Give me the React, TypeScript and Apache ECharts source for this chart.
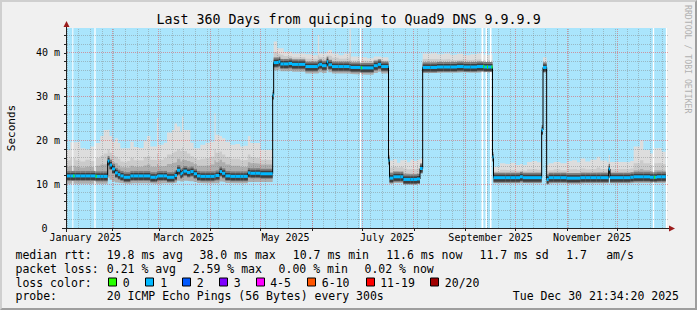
import React, { useEffect, useRef } from "react";
import * as echarts from "echarts";

// ---------- texts ----------
const TITLE = "Last 360 Days from quicping to Quad9 DNS 9.9.9.9";
const Y_NAME = "Seconds";
const WATERMARK = "RRDTOOL / TOBI OETIKER";

// ---------- time frame ----------
const START_MS = Date.UTC(2025, 0, 4, 21, 34, 20);
const DAY_MS = 86400000;
const RANGE_DAYS = 360;
const DATA_END_DAY = 359.3;
const Y_MAX = 45.714;

const monthStarts = [
  "2025-02-01", "2025-03-01", "2025-04-01", "2025-05-01", "2025-06-01", "2025-07-01",
  "2025-08-01", "2025-09-01", "2025-10-01", "2025-11-01", "2025-12-01",
];
const monthLabelDates = ["2025-01-16", "2025-03-16", "2025-05-16", "2025-07-16", "2025-09-16", "2025-11-16"];
const monthLabels = ["January 2025", "March 2025", "May 2025", "July 2025", "September 2025", "November 2025"];
const firstGridSunday = "2025-01-05";
const yMajor = [10, 20, 30, 40];
const yMinor = [2, 4, 6, 8, 12, 14, 16, 18, 22, 24, 26, 28, 32, 34, 36, 38, 42, 44];

// ---------- data (days since start, values in ms) ----------
const days = [
  0, 2, 5, 8, 11, 14, 17, 20, 22, 24.4, 25.5, 27, 28.8, 30.5, 32, 34, 36, 38, 40, 43, 46, 48, 50, 53, 54, 54.7,
  58, 60, 63, 64.5, 66, 68, 69, 69.8, 72, 74, 76, 78, 80, 83, 86, 88.5, 89.2, 91.5, 93, 95, 98, 101, 104, 106,
  108.5, 110, 113, 116, 120, 123.4,
  124, 126, 127, 128, 130, 133, 135, 139, 143, 147, 150.5, 151.3, 153, 155.8, 156.8, 159, 163, 166, 169.5, 170.3,
  176, 180, 184, 186.5, 188.5, 192.9,
  193.5, 195.8, 198, 200, 201.8, 204, 206, 208, 210, 211.8,
  213.4, 218, 222, 226, 230, 234, 238, 242, 246, 250, 255.3,
  255.9, 259.8, 263, 266, 269, 271.8, 273.5, 276, 279, 282, 284.8, 285.6, 287.8, 289, 292, 296, 299.8, 303, 306, 308,
  311, 314, 317.8, 320, 324, 325, 325.8, 330, 334, 338, 340, 343.8, 345.8, 349.8, 352, 354, 356.8,
];

const median = [
  11.9, 11.9, 11.9, 11.9, 11.9, 11.9, 11.8, 11.8, 11.8, 15.3, 14.4, 13.5, 12.6, 12.2, 11.9, 11.6, 11.6, 11.9, 11.9, 11.9,
  11.9, 11.9, 11.6, 11.6, 11.8, 11.9, 11.9, 11.6, 11.6, 12.0, 13.2, 12.4, 12.6, 13.0, 12.7, 12.9, 12.4, 11.9, 11.8, 11.8,
  11.8, 11.9, 12.0, 12.9, 12.5, 11.9, 11.8, 11.8, 11.8, 11.8, 12.6, 12.5, 12.5, 12.4, 12.4, 30.4,
  37.8, 37.8, 38.0, 37.5, 37.5, 37.6, 37.4, 37.4, 36.9, 36.9, 37.2, 37.4, 37.1, 38.0, 37.3, 36.9, 36.9, 36.9, 36.8, 36.7,
  36.6, 36.6, 37.1, 37.4, 36.9, 15.5,
  11.4, 11.7, 11.7, 11.7, 11.1, 11.1, 11.1, 11.1, 11.2, 13.6,
  36.7, 36.7, 36.8, 36.8, 36.8, 36.9, 36.8, 36.8, 36.9, 36.8, 16.2,
  11.5, 11.5, 11.5, 11.5, 11.5, 11.7, 11.5, 11.5, 11.5, 11.5, 22.4, 36.7, 11.1, 11.5, 11.5, 11.5, 11.4, 11.4, 11.4, 11.5,
  11.5, 11.5, 11.5, 11.5, 11.5, 13.5, 11.5, 11.5, 11.5, 11.6, 11.7, 11.7, 11.7, 11.6, 11.6, 11.7, 11.7,
];

const smokeMax = [
  17.8, 19.6, 19.7, 18.2, 18.0, 18.6, 19.4, 21.0, 22.4, 22.5, 21.0, 19.7, 20.5, 19.4, 18.2, 18.2, 18.2, 19.7, 18.5, 18.3,
  19.8, 21.0, 18.6, 18.6, 25.1, 19.0, 19.5, 21.8, 22.4, 23.9, 23.2, 22.0, 25.5, 22.4, 22.4, 19.5, 18.2, 18.2, 19.0, 19.5,
  19.7, 26.2, 21.3, 21.0, 20.5, 19.7, 19.0, 19.2, 18.6, 18.8, 21.0, 19.4, 19.4, 17.8, 17.8, 30.4,
  42.6, 41.1, 41.1, 41.1, 40.3, 40.3, 39.9, 39.9, 39.7, 39.5, 44.1, 39.9, 39.9, 40.3, 40.7, 39.9, 39.5, 39.9, 45.6, 39.2,
  39.0, 38.8, 39.2, 39.2, 39.0, 19.4,
  15.4, 15.7, 14.9, 15.5, 15.6, 15.0, 15.6, 15.3, 15.6, 15.8,
  39.9, 40.0, 39.7, 39.9, 39.6, 39.8, 39.5, 39.7, 39.9, 39.6, 17.0,
  14.0, 14.8, 14.6, 14.9, 14.4, 14.6, 14.4, 15.1, 15.3, 15.0, 22.4, 39.0, 14.4, 14.8, 15.1, 14.8, 15.3, 15.5, 15.0, 15.9,
  15.2, 15.6, 16.3, 15.4, 15.0, 16.7, 15.1, 15.1, 15.0, 15.3, 18.6, 20.0, 17.8, 17.0, 18.2, 18.3, 17.4,
];

const smokeHigh = [
  15.5, 16.0, 15.5, 15.2, 15.6, 15.3, 16.0, 16.5, 17.0, 18.0, 17.2, 16.5, 16.3, 15.8, 15.2, 15.0, 15.3, 16.0, 15.5, 15.4,
  16.2, 16.4, 15.6, 15.5, 17.0, 15.6, 16.0, 16.8, 17.2, 17.5, 18.0, 17.6, 18.4, 17.6, 17.0, 16.4, 16.0, 15.6, 15.8, 16.0,
  16.3, 18.0, 17.2, 17.5, 16.8, 16.2, 15.8, 15.8, 15.5, 15.6, 16.8, 16.2, 16.0, 15.6, 15.6, 30.4,
  40.2, 39.8, 39.8, 39.6, 39.3, 39.3, 39.0, 39.0, 38.7, 38.6, 39.5, 39.0, 38.9, 39.4, 39.3, 38.9, 38.7, 38.8, 40.0, 38.3,
  38.2, 38.1, 38.5, 38.6, 38.3, 17.5,
  13.8, 14.0, 13.8, 14.0, 13.6, 13.4, 13.5, 13.4, 13.6, 14.8,
  38.6, 38.6, 38.5, 38.6, 38.4, 38.5, 38.4, 38.5, 38.6, 38.4, 16.7,
  12.9, 13.3, 13.2, 13.3, 13.1, 13.2, 13.1, 13.4, 13.5, 13.3, 22.4, 38.0, 13.0, 13.2, 13.4, 13.2, 13.4, 13.5, 13.3, 13.6,
  13.4, 13.5, 13.8, 13.5, 13.4, 15.0, 13.4, 13.5, 13.4, 13.6, 14.8, 15.5, 14.8, 14.4, 14.8, 14.9, 14.6,
];

const smokeMid = [
  14.0, 14.2, 14.0, 13.8, 14.0, 13.9, 14.2, 14.5, 14.6, 16.5, 15.8, 15.0, 14.8, 14.3, 13.9, 13.8, 13.8, 14.2, 14.0, 14.0,
  14.3, 14.5, 14.0, 14.0, 14.6, 14.1, 14.2, 14.6, 14.9, 15.0, 15.8, 15.2, 15.6, 15.5, 15.3, 15.0, 14.6, 14.2, 14.2, 14.3,
  14.5, 15.5, 15.0, 15.6, 15.0, 14.5, 14.2, 14.2, 14.0, 14.0, 15.0, 14.8, 14.7, 14.5, 14.5, 30.4,
  39.0, 38.8, 38.9, 38.6, 38.5, 38.5, 38.3, 38.3, 37.9, 37.8, 38.3, 38.2, 38.0, 38.6, 38.3, 38.0, 37.8, 37.9, 38.3, 37.6,
  37.5, 37.4, 37.8, 38.0, 37.7, 16.5,
  12.8, 13.0, 12.9, 13.0, 12.5, 12.4, 12.4, 12.4, 12.5, 14.2,
  37.8, 37.8, 37.8, 37.9, 37.8, 37.9, 37.8, 37.8, 37.9, 37.8, 16.5,
  12.3, 12.5, 12.4, 12.5, 12.4, 12.5, 12.4, 12.5, 12.6, 12.5, 22.4, 37.4, 12.2, 12.4, 12.5, 12.4, 12.4, 12.5, 12.4, 12.6,
  12.5, 12.6, 12.7, 12.6, 12.5, 14.3, 12.5, 12.5, 12.5, 12.6, 13.2, 13.5, 13.2, 13.0, 13.2, 13.2, 13.1,
];

const smokeMin = [
  10.1, 10.1, 10.1, 10.1, 10.1, 10.1, 10.1, 10.1, 10.1, 11.5, 11.0, 10.6, 10.4, 10.3, 10.2, 10.1, 10.1, 10.2, 10.2, 10.2,
  10.2, 10.2, 10.1, 10.1, 10.1, 10.2, 10.2, 10.2, 10.3, 10.4, 10.8, 10.6, 10.6, 10.8, 10.7, 10.7, 10.5, 10.3, 10.2, 10.2,
  10.2, 10.2, 10.3, 10.6, 10.5, 10.3, 10.2, 10.2, 10.2, 10.2, 10.5, 10.5, 10.5, 10.5, 10.5, 30.0,
  36.0, 36.0, 36.2, 35.8, 35.8, 35.9, 35.7, 35.7, 35.3, 35.3, 35.4, 35.6, 35.4, 36.2, 35.6, 35.3, 35.3, 35.3, 35.2, 35.1,
  35.0, 35.0, 35.4, 35.7, 35.3, 15.0,
  10.1, 10.3, 10.3, 10.3, 10.1, 10.0, 10.0, 10.0, 10.1, 13.0,
  35.4, 35.4, 35.5, 35.5, 35.5, 35.6, 35.5, 35.5, 35.6, 35.5, 15.8,
  10.2, 10.2, 10.2, 10.2, 10.2, 10.3, 10.2, 10.2, 10.2, 10.2, 22.2, 36.1, 10.1, 10.2, 10.2, 10.2, 10.1, 10.1, 10.1, 10.2,
  10.2, 10.2, 10.2, 10.2, 10.2, 12.9, 10.2, 10.2, 10.2, 10.3, 10.3, 10.3, 10.3, 10.3, 10.3, 10.3, 10.3,
];

// unknown-data gaps [fromDay, toDay] and bins with zero loss
const gapRanges = [
  [3.2, 3.8], [16.4, 17.2], [175.8, 176.5], [248.7, 249.8], [251.1, 252.0], [253.8, 254.7], [351.5, 352.3],
  [DATA_END_DAY, RANGE_DAYS],
];
const lossFreeDays = [3.8, 17.2, 176.5, 249.8, 252.0, 254.7, 352.3];

// ---------- legend ----------
const statRows = [
  { head: "median rtt:", cells: ["19.8 ms avg", "38.0 ms max", "10.7 ms min", "11.6 ms now", "11.7 ms sd", "1.7", "am/s"] },
  { head: "packet loss:", cells: ["0.21 % avg", "2.59 % max", "0.00 % min", "0.02 % now"] },
];
const lossHead = "loss color:";
const lossLabels = ["0", "1", "2", "3", "4-5", "6-10", "11-19", "20/20"];
const lossColors = ["#26ff00", "#00b8ff", "#0059ff", "#7e00ff", "#ff00ff", "#ff5500", "#ff0000", "#a10000"];
const probeHead = "probe:";
const probeText = "20 ICMP Echo Pings (56 Bytes) every 300s";
const stampText = "Tue Dec 30 21:34:20 2025";

// ---------- layout / style ----------
const FONT = "'DejaVu Sans Mono', monospace";
const BLUE = "#aae5fc";
const GRID_C = "rgba(130,130,130,0.45)";
const MGRID_C = "rgba(230,70,70,0.5)";
const statX = [
  [107.3, 200, 293.3, 386.7, 480, 566.7, 606.7],
  [107.3, 193.2, 279.1, 365],
];
const rowY = [254.5, 268.5, 282.5, 296.3];
const swatchX = [108.5, 145.5, 182.5, 219.5, 256.5, 307.5, 366.5, 430.5];
const lossLabelX = [123.3, 160.7, 197.3, 234.3, 270.7, 322.3, 380.7, 445.3];
const GREEN_W = 0.6;

const toDay = (s: string) => (Date.parse(s) - START_MS) / DAY_MS;

function binEnd(i: number) {
  return i + 1 < days.length ? days[i + 1] : DATA_END_DAY;
}
function stepPoints(vals: number[]) {
  const pts: number[][] = [];
  vals.forEach((v, i) => {
    pts.push([days[i], v], [binEnd(i), v]);
  });
  return pts;
}
function medianAt(d: number) {
  let k = 0;
  for (let i = 0; i < days.length; i++) if (days[i] <= d) k = i;
  return median[k];
}

function buildOption() {
  const monthStartDays = monthStarts.map(toDay);
  const labelDays = monthLabelDates.map(toDay);
  const weekDays: number[] = [];
  for (let d = toDay(firstGridSunday); d < RANGE_DAYS; d += 7) weekDays.push(d);

  const gridItems: number[][] = [];
  weekDays.forEach((d) => gridItems.push([d, 0, 0]));
  monthStartDays.forEach((d) => gridItems.push([d, 0, 1]));
  yMinor.forEach((v) => gridItems.push([0, v, 2]));
  yMajor.forEach((v) => gridItems.push([0, v, 3]));

  const bins = days.map((d, i) => [d, binEnd(i), median[i]]);
  const greens = lossFreeDays.map((d) => [d, d + GREEN_W, medianAt(d)]);

  const area = (vals: number[], color: string, z: number) => ({
    type: "line",
    data: stepPoints(vals),
    symbol: "none",
    silent: true,
    z,
    lineStyle: { width: 0, opacity: 0 },
    areaStyle: { color, opacity: 1, origin: "start" },
  });

  const band = (z: number, up: number, down: number, color: string) => ({
    type: "custom",
    z,
    silent: true,
    data: bins,
    encode: { x: [0, 1], y: 2 },
    renderItem: (_p: any, api: any) => {
      const s = api.coord([api.value(0), api.value(2)]);
      const e = api.coord([api.value(1), api.value(2)]);
      return {
        type: "rect",
        shape: { x: s[0], y: s[1] - up, width: e[0] - s[0], height: up + down },
        style: { fill: color },
      };
    },
  });

  const text = (t: string, x: number, y: number, extra: any = {}) => ({
    type: "text",
    x,
    y,
    z: 50,
    silent: true,
    style: { text: t, fontFamily: FONT, fontSize: 11.5, fill: "#000", verticalAlign: "middle", ...extra },
  });

  const graphic: any[] = [
    text(TITLE, 348.5, 19, { fontSize: 13.3, align: "center" }),
    { ...text(Y_NAME, 11, 128, { fontSize: 11, align: "center" }), rotation: Math.PI / 2 },
    { ...text(WATERMARK, 688, 5, { fontSize: 8.2, fill: "#b0b0b0", align: "left" }), rotation: -Math.PI / 2 },
    { type: "line", z: 50, silent: true, shape: { x1: 62, y1: 228.5, x2: 670, y2: 228.5 }, style: { stroke: "#222", lineWidth: 1 } },
    { type: "line", z: 50, silent: true, shape: { x1: 66.5, y1: 232, x2: 66.5, y2: 25 }, style: { stroke: "#222", lineWidth: 1 } },
    { type: "polygon", z: 51, silent: true, shape: { points: [[669, 225.5], [669, 231.5], [675, 228.5]] }, style: { fill: "#9b1c1c" } },
    { type: "polygon", z: 51, silent: true, shape: { points: [[63.5, 27], [69.5, 27], [66.5, 21]] }, style: { fill: "#9b1c1c" } },
  ];
  statRows.forEach((row, r) => {
    graphic.push(text(row.head, 15.5, rowY[r]));
    row.cells.forEach((c, i) => graphic.push(text(c, statX[r][i] - 0.5, rowY[r])));
  });
  graphic.push(text(lossHead, 15.5, rowY[2]));
  lossLabels.forEach((l, i) => {
    graphic.push({
      type: "rect",
      z: 50,
      silent: true,
      shape: { x: swatchX[i], y: rowY[2] - 4.5, width: 8, height: 8 },
      style: { fill: lossColors[i], stroke: "#000", lineWidth: 1 },
    });
    graphic.push(text(l, lossLabelX[i] - 0.5, rowY[2]));
  });
  graphic.push(text(probeHead, 15.5, rowY[3]));
  graphic.push(text(probeText, 106.8, rowY[3]));
  graphic.push(text(stampText, 512.8, rowY[3]));

  return {
    animation: false,
    backgroundColor: "transparent",
    grid: {
      left: 67,
      top: 28,
      width: 600,
      height: 200,
      show: true,
      backgroundColor: BLUE,
      borderWidth: 0,
      containLabel: false,
      outerBoundsMode: "none",
    },
    xAxis: {
      type: "value",
      min: 0,
      max: RANGE_DAYS,
      splitLine: { show: false },
      axisLine: { show: false },
      axisTick: { show: true, customValues: monthStartDays, length: 3, lineStyle: { color: "#222" } },
      axisLabel: {
        customValues: labelDays,
        formatter: (v: number) => {
          const i = labelDays.findIndex((d) => Math.abs(d - v) < 1e-6);
          return i >= 0 ? monthLabels[i] : "";
        },
        fontFamily: FONT,
        fontSize: 10,
        color: "#000",
        margin: 4,
      },
    },
    yAxis: {
      type: "value",
      min: 0,
      max: Y_MAX,
      interval: 2,
      splitLine: { show: false },
      axisLine: { show: false },
      axisTick: { show: true, length: 3, lineStyle: { color: "#222" } },
      axisLabel: {
        showMaxLabel: false,
        fontFamily: FONT,
        fontSize: 10,
        color: "#000",
        margin: 7,
        formatter: (v: number) => {
          if (Math.abs(v) < 1e-9) return "{z|0}";
          if (Math.abs(v / 10 - Math.round(v / 10)) < 1e-6) return `${Math.round(v)} m`;
          return "";
        },
        rich: { z: { fontFamily: FONT, fontSize: 10, color: "#000", padding: [0, 12.5, 0, 0] } },
      },
    },
    graphic,
    series: [
      area(smokeMax, "#dddddd", 1),
      area(smokeHigh, "#cbcbcb", 2),
      area(smokeMid, "#aeaeae", 3),
      area(smokeMin, BLUE, 4),
      {
        type: "custom",
        z: 5,
        silent: true,
        data: gapRanges,
        encode: { x: [0, 1] },
        renderItem: (_p: any, api: any) => {
          const a = api.coord([api.value(0), Y_MAX]);
          const b = api.coord([api.value(1), 0]);
          return { type: "rect", shape: { x: a[0], y: a[1], width: b[0] - a[0], height: b[1] - a[1] }, style: { fill: "#ffffff" } };
        },
      },
      {
        type: "custom",
        z: 6,
        silent: true,
        data: gridItems,
        encode: { x: 0, y: 1 },
        renderItem: (_p: any, api: any) => {
          const kind = api.value(2);
          if (kind < 2) {
            const d = api.value(0);
            const a = api.coord([d, 0]);
            const b = api.coord([d, Y_MAX]);
            const x = Math.floor(a[0]) + 0.5;
            return {
              type: "line",
              shape: { x1: x, y1: a[1], x2: x, y2: b[1] },
              style: { stroke: kind === 1 ? MGRID_C : GRID_C, lineWidth: 1, lineDash: [1, 1] },
            };
          }
          const v = api.value(1);
          const a = api.coord([0, v]);
          const b = api.coord([RANGE_DAYS, v]);
          const y = Math.floor(a[1]) + 0.5;
          return {
            type: "line",
            shape: { x1: a[0], y1: y, x2: b[0] + 2, y2: y },
            style: { stroke: kind === 3 ? MGRID_C : GRID_C, lineWidth: 1, lineDash: [1, 1] },
          };
        },
      },
      band(7, 5, 5, "#7c7c7c"),
      band(8, 3, 4, "#3e3e3e"),
      {
        type: "line",
        z: 9,
        silent: true,
        symbol: "none",
        data: stepPoints(median),
        lineStyle: { color: "#000", width: 1 },
      },
      band(10, 1.5, 1.5, lossColors[1]),
      {
        type: "custom",
        z: 11,
        silent: true,
        data: greens,
        encode: { x: [0, 1], y: 2 },
        renderItem: (_p: any, api: any) => {
          const s = api.coord([api.value(0), api.value(2)]);
          const e = api.coord([api.value(1), api.value(2)]);
          return {
            type: "rect",
            shape: { x: s[0], y: s[1] - 1.5, width: Math.max(1, e[0] - s[0]), height: 3 },
            style: { fill: lossColors[0] },
          };
        },
      },
    ],
  };
}

export default function App() {
  const ref = useRef<HTMLDivElement>(null);
  useEffect(() => {
    if (!ref.current) return;
    const chart = echarts.init(ref.current, null, { renderer: "svg" });
    chart.setOption(buildOption() as any);
    return () => chart.dispose();
  }, []);
  return (
    <div style={{ position: "fixed", left: 0, top: 0, width: 697, height: 310, background: "#f0f0f0" }}>
      <div ref={ref} style={{ position: "absolute", left: 0, top: 0, width: 697, height: 310 }} />
      <div
        style={{
          position: "absolute",
          left: 0,
          top: 0,
          width: 697,
          height: 310,
          boxSizing: "border-box",
          borderStyle: "solid",
          borderWidth: 2,
          borderColor: "#cfcfcf #9e9e9e #9e9e9e #cfcfcf",
          pointerEvents: "none",
        }}
      />
    </div>
  );
}
